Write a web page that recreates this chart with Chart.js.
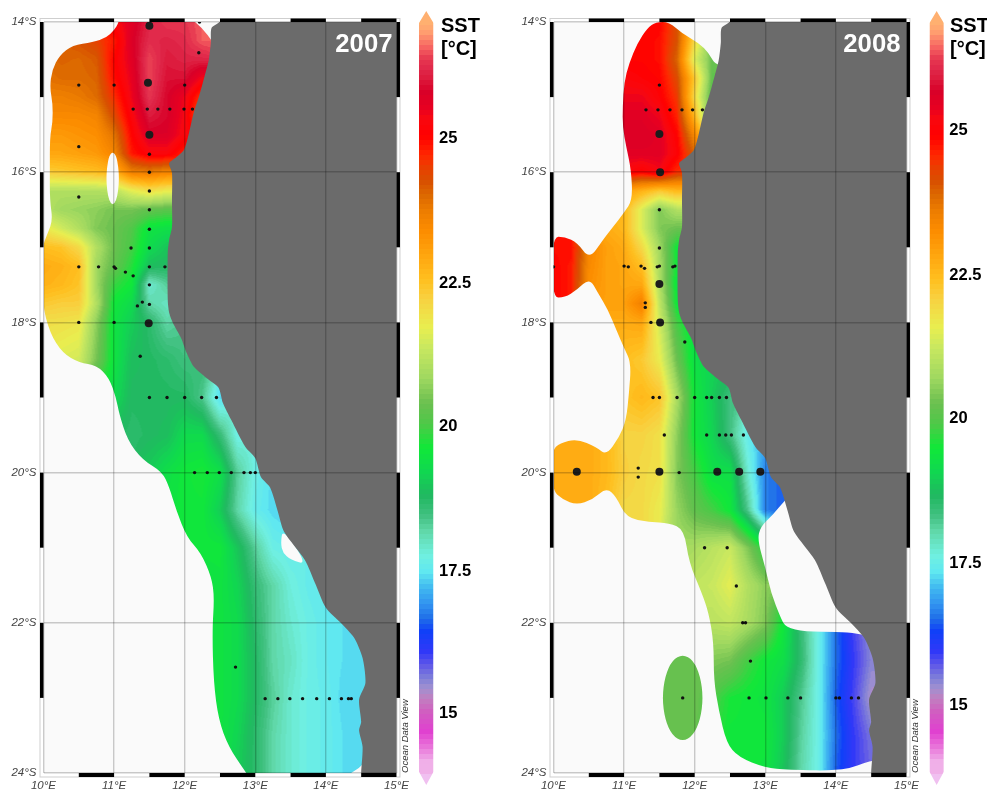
<!DOCTYPE html>
<html>
<head>
<meta charset="utf-8">
<title>SST 2007 / 2008</title>
<script src="https://cdn.jsdelivr.net/npm/chart.js@4"></script>
<style>
  html, body { margin: 0; background: #fff; }
  canvas { position: absolute; top: 0; filter: blur(0.35px); }
</style>
</head>
<body>
<canvas id="map2007" width="415" height="792" style="left:0"></canvas>
<canvas id="bar2007" width="70" height="792" style="left:415px"></canvas>
<canvas id="map2008" width="415" height="792" style="left:510px"></canvas>
<canvas id="bar2008" width="62" height="792" style="left:925px"></canvas>
<script>
const _ = null;

// grid the SST values were read on
const lons = [10, 10.25, 10.5, 10.75, 11, 11.25, 11.5, 11.75, 12, 12.25, 12.5, 12.75, 13, 13.25, 13.5, 13.75, 14, 14.25, 14.5, 14.75];
const lats = [-14, -14.25, -14.5, -14.75, -15, -15.25, -15.5, -15.75, -16, -16.25, -16.5, -16.75, -17, -17.25, -17.5, -17.75, -18, -18.5, -19, -19.5, -20, -20.5, -21, -21.5, -22, -22.5, -23, -23.5, -24];

const sst2007 = [
  [_, _, _, _, 25.2, 25.6, 26.1, 26.3, 26.3, 26.5, 26.5, _, _, _, _, _, _, _, _, _],
  [_, 24, 24.2, 24.4, 24.8, 25.7, 26.2, 26.1, 26.2, 26.5, 26.5, _, _, _, _, _, _, _, _, _],
  [23.9, 24, 23.95, 24.1, 25, 25.6, 26.4, 26, 26.1, 26.1, _, _, _, _, _, _, _, _, _, _],
  [23.8, 23.9, 23.9, 24, 24.9, 25.5, 26.4, 25.9, 25.9, 25.3, _, _, _, _, _, _, _, _, _, _],
  [23.6, 23.6, 23.7, 23.9, 24.6, 25.4, 26.3, 25.8, 25.4, 24.5, _, _, _, _, _, _, _, _, _, _],
  [23.4, 23.4, 23.4, 23.5, 24.3, 25.2, 26, 25.8, 25.3, 24, _, _, _, _, _, _, _, _, _, _],
  [23.1, 23.1, 23.2, 23.3, 23.8, 25, 25.7, 25.7, 25.2, _, _, _, _, _, _, _, _, _, _, _],
  [22.9, 22.9, 23, 23.1, 23.5, 24.8, 25.2, 25.2, 24.7, _, _, _, _, _, _, _, _, _, _, _],
  [22.2, 22.3, 22.4, 22.5, 22.7, 23.6, 23.7, 23.5, _, _, _, _, _, _, _, _, _, _, _, _],
  [21, 21, 21, 21, 21.1, 21.6, 21.9, 21.7, _, _, _, _, _, _, _, _, _, _, _, _],
  [21.1, 20.8, 20.7, 20.6, 20.4, 20.4, 20.2, 20.1, _, _, _, _, _, _, _, _, _, _, _, _],
  [21.8, 21.4, 21, 20.5, 20.3, 20, 19.4, 19.3, _, _, _, _, _, _, _, _, _, _, _, _],
  [22.5, 22.4, 22, 21, 20.3, 19.9, 19.2, 18.9, _, _, _, _, _, _, _, _, _, _, _, _],
  [22.8, 22.7, 22.5, 20.8, 20.2, 19.7, 18.8, 18.7, _, _, _, _, _, _, _, _, _, _, _, _],
  [22.7, 22.6, 22.4, 20.8, 19.8, 19.5, 17.8, 18.2, _, _, _, _, _, _, _, _, _, _, _, _],
  [22.3, 22.2, 22.2, 21, 19.5, 19.2, 18.1, 17.9, _, _, _, _, _, _, _, _, _, _, _, _],
  [21.9, 21.9, 21.8, 20.6, 19.4, 19, 18.6, 18.1, 18.3, _, _, _, _, _, _, _, _, _, _, _],
  [_, 21.5, 21.4, 20.4, 19.4, 18.8, 18.7, 18.6, 18.4, 18.5, _, _, _, _, _, _, _, _, _, _],
  [_, _, _, 19.5, 19.2, 18.7, 18.7, 18.7, 18.7, 18.3, 17.3, _, _, _, _, _, _, _, _, _],
  [_, _, _, _, 18.7, 18.6, 18.7, 18.8, 19.2, 19.2, 18.5, 17.6, _, _, _, _, _, _, _, _],
  [_, _, _, _, _, _, 19, 19.3, 19.5, 19.6, 19.3, 18.2, 17.6, 17.3, _, _, _, _, _, _],
  [_, _, _, _, _, _, _, 19.4, 19.5, 19.5, 19, 18.1, 17.5, 17.3, 17.2, _, _, _, _, _],
  [_, _, _, _, _, _, _, _, _, 19.5, 19.5, 18.9, 18.2, 17.6, 17.5, _, _, _, _, _],
  [_, _, _, _, _, _, _, _, _, 19.3, 19.4, 19.1, 18.5, 18.1, 17.7, 17.5, 17.4, _, _, _],
  [_, _, _, _, _, _, _, _, _, 19.3, 19.4, 19.2, 18.6, 18.1, 17.8, 17.6, 17.45, 17.35, _, _],
  [_, _, _, _, _, _, _, _, _, 19.3, 19.4, 19.2, 18.7, 18.1, 17.9, 17.6, 17.45, 17.35, 17.3, _],
  [_, _, _, _, _, _, _, _, _, 19.3, 19.4, 19.2, 18.7, 18.2, 17.8, 17.6, 17.5, 17.3, 17.3, _],
  [_, _, _, _, _, _, _, _, _, _, 19.4, 19.1, 18.6, 18.1, 17.8, 17.6, 17.5, 17.35, 17.32, _],
  [_, _, _, _, _, _, _, _, _, _, 19.4, 19, 18.6, 18.1, 17.8, 17.6, 17.5, 17.35, 17.32, _],
];

const sst2008 = [
  [_, _, _, _, _, 25, 25, 24.2, 22.5, _, _, _, _, _, _, _, _, _, _, _],
  [_, _, _, _, 25, 25, 24.9, 24.2, 22, 20.3, _, _, _, _, _, _, _, _, _, _],
  [_, _, _, _, 25, 25, 24.9, 24, 21.5, 20.3, 20.2, _, _, _, _, _, _, _, _, _],
  [_, _, _, 25.2, 25.2, 25.1, 25, 24.3, 22.3, 20.2, _, _, _, _, _, _, _, _, _, _],
  [_, _, _, 25.4, 25.4, 25.4, 25.1, 24.5, 22, 20, _, _, _, _, _, _, _, _, _, _],
  [_, _, _, 25.7, 25.6, 25.6, 25.4, 24.7, 22.6, 20, _, _, _, _, _, _, _, _, _, _],
  [_, _, _, _, 25.7, 25.7, 25.6, 25, 23.4, 21.5, _, _, _, _, _, _, _, _, _, _],
  [_, _, _, _, 25.6, 25.6, 25.6, 25.1, 24, _, _, _, _, _, _, _, _, _, _, _],
  [_, _, _, _, 25.2, 25, 25.3, 24.6, _, _, _, _, _, _, _, _, _, _, _, _],
  [_, _, _, _, 23, 22.7, 22.3, 22.6, _, _, _, _, _, _, _, _, _, _, _, _],
  [_, _, _, 22.6, 22.6, 21.5, 20.5, 21, _, _, _, _, _, _, _, _, _, _, _, _],
  [_, _, 23, 22.8, 22.6, 21.5, 20.5, 20.3, _, _, _, _, _, _, _, _, _, _, _, _],
  [24.9, 24.9, 23.5, 23, 22.8, 22, 20.8, 19.5, _, _, _, _, _, _, _, _, _, _, _, _],
  [25, 24.8, 23.4, 23, 22.9, 22.5, 20.9, 19.5, _, _, _, _, _, _, _, _, _, _, _, _],
  [25, 24.8, 23.3, 23, 22.9, 22.9, 21, 19.4, _, _, _, _, _, _, _, _, _, _, _, _],
  [_, _, 23, 23, 23, 23.6, 21.2, 19.5, 19, _, _, _, _, _, _, _, _, _, _, _],
  [_, _, _, 22.8, 22.8, 22.9, 21.4, 19.9, 19.3, _, _, _, _, _, _, _, _, _, _, _],
  [_, _, _, _, 22.5, 22.3, 21.7, 20.3, 19.3, 19.1, 19, _, _, _, _, _, _, _, _, _],
  [_, _, _, _, 22.4, 22.6, 22.4, 20.9, 19.5, 19, 18.4, _, _, _, _, _, _, _, _, _],
  [_, 22.8, 22.8, 22.6, 22.1, 22.1, 21.9, 20.6, 19.5, 19.1, 18.4, 17.5, 17, _, _, _, _, _, _, _],
  [22.8, 22.8, 22.8, 22.6, 22.2, 22, 21.9, 20.5, 19.9, 19.3, 19.3, 17.8, 16.7, 16.5, _, _, _, _, _, _],
  [_, 22.8, 22.8, 22.5, 22, 22, 21.7, 20.7, 20.2, 19.9, 19.5, 18.3, 16.7, 16.5, _, _, _, _, _, _],
  [_, _, _, _, _, _, _, 20.8, 20.9, 21.1, 21.3, 20.5, 19.6, _, _, _, _, _, _, _],
  [_, _, _, _, _, _, _, _, 21.2, 21.3, 21.6, 21, 20.6, _, _, _, _, _, _, _],
  [_, _, _, _, _, _, _, _, _, 21.1, 21.2, 20.9, 20.5, 19.5, 18.5, 17.6, 16.6, 15.9, 15.4, _],
  [_, _, _, _, _, _, 20.3, 20.3, 20.3, 20.5, 20.4, 19.9, 19.5, 19.3, 18.6, 17.6, 16.6, 16, 15.5, _],
  [_, _, _, _, _, _, 20.3, 20.3, 20.3, 20, 19.6, 19.5, 19.4, 19, 18.3, 17.6, 16.5, 15.9, 15.3, _],
  [_, _, _, _, _, _, 20.3, 20.3, 20.3, 19.8, 19.5, 19.5, 19.5, 19, 18.2, 17.6, 16.6, 16, 15.6, _],
  [_, _, _, _, _, _, _, _, _, _, 19.5, 19.5, 19.4, 18.9, 18.1, 17.6, 16.5, 16, 15.7, _],
];

// sampling area of each year, [lon, lat]; the east side runs on under the land
const water2007 = [
  [11.07, -13.9], [11.07, -14], [11, -14.11], [10.89, -14.21], [10.7, -14.27], [10.41, -14.31], [10.23, -14.44], [10.12, -14.64], [10.09, -14.87],
  [10.13, -15.08], [10.13, -15.34], [10.09, -15.53], [10.09, -16.01], [10.09, -16.37], [10.13, -16.64], [10.06, -16.81], [9.98, -17],
  [9.98, -17.74], [10.09, -18.14], [10.27, -18.41], [10.51, -18.54], [10.75, -18.57], [10.93, -18.74], [11.03, -19.01], [11.07, -19.21],
  [11.19, -19.57], [11.4, -19.83], [11.68, -19.99], [11.78, -20.19], [11.88, -20.5], [12.03, -20.86], [12.23, -21.07], [12.38, -21.39],
  [12.42, -21.66], [12.39, -22.1], [12.41, -22.8], [12.48, -23.29], [12.62, -23.65], [12.87, -24], [12.95, -24.1], [14.8, -24.1], [14.8, -22], [12.7, -13.9],
];
const hole2007a = [
  [10.98, -15.73], [11.03, -15.78], [11.06, -15.93], [11.07, -16.08], [11.06, -16.24], [11.03, -16.38],
  [10.98, -16.44], [10.93, -16.38], [10.9, -16.24], [10.89, -16.08], [10.9, -15.93], [10.93, -15.78],
];
const hole2007b = [[13.39, -20.74], [13.36, -20.94], [13.39, -21.07], [13.5, -21.16], [13.74, -21.23]];

const water2008 = [
  [11.45, -14], [11.64, -14], [11.82, -14.15], [12.06, -14.28], [12.2, -14.41], [12.31, -14.6], [12.9, -14.64], [13.46, -20.23],
  [13.28, -20.36], [13.11, -20.56], [12.93, -20.72], [12.89, -20.9], [13, -21.26], [13.08, -21.6], [13.22, -21.94], [13.29, -22.06],
  [13.56, -22.12], [14.02, -22.12], [14.3, -22.14], [14.73, -22.23], [14.73, -23.83], [14.49, -23.83], [14.12, -23.97], [13.32, -23.96],
  [13, -23.93], [12.62, -23.79], [12.45, -23.6], [12.34, -23.16], [12.27, -22.76], [12.27, -22.27], [12.2, -21.87], [12.1, -21.6],
  [11.92, -21.2], [11.85, -20.76], [11.64, -20.67], [11.36, -20.66], [11.03, -20.6], [10.89, -20.32], [10.75, -20.2], [10.55, -20.36],
  [10.33, -20.43], [10.13, -20.36], [9.98, -20.23], [9.98, -19.7], [10.09, -19.61], [10.33, -19.55], [10.61, -19.66], [10.75, -19.77],
  [10.93, -19.53], [11.03, -19.3], [11.07, -18.94], [11.1, -18.54], [11, -18.34], [10.89, -18.1], [10.77, -17.83], [10.63, -17.61],
  [10.51, -17.41], [10.33, -17.57], [10.16, -17.67], [9.98, -17.67], [9.98, -16.86], [10.16, -16.86], [10.34, -16.94], [10.51, -17.16],
  [10.7, -16.9], [10.84, -16.73], [11, -16.54], [11.12, -16.37], [11.1, -15.97], [11.03, -15.66], [10.98, -15.4], [10.98, -15.13],
  [11, -14.81], [11.07, -14.55], [11.19, -14.28], [11.33, -14.08],
];
const patch2008 = [
  [11.83, -22.42], [11.98, -22.5], [12.08, -22.71], [12.12, -23], [12.08, -23.29], [11.98, -23.5],
  [11.83, -23.58], [11.68, -23.5], [11.58, -23.29], [11.54, -23], [11.58, -22.71], [11.68, -22.5],
];

const coast = [
  [12.6, -13.8], [12.49, -14], [12.38, -14.08], [12.37, -14.28], [12.34, -14.51], [12.28, -14.73], [12.2, -15], [12.13, -15.2], [12.06, -15.48],
  [11.99, -15.7], [11.88, -15.8], [11.78, -15.88], [11.82, -16.01], [11.82, -16.37], [11.82, -16.73], [11.78, -16.9], [11.76, -17.08],
  [11.76, -17.7], [11.78, -17.87], [11.83, -18], [11.95, -18.21], [12.03, -18.41], [12.13, -18.59], [12.31, -18.74], [12.48, -18.87],
  [12.54, -19.07], [12.66, -19.3], [12.86, -19.66], [13, -19.81], [13.08, -20.06], [13.21, -20.2], [13.32, -20.52], [13.41, -20.79],
  [13.7, -21.16], [13.86, -21.5], [14, -21.8], [14.21, -22], [14.4, -22.2], [14.52, -22.47], [14.56, -22.8], [14.47, -23.02],
  [14.5, -23.32], [14.47, -23.43], [14.52, -23.65], [14.5, -24], [14.5, -24.3], [16, -25], [16, -13],
];

// stations
const small2007 = [
  [12.21, -14], [12.2, -14.41], [10.5, -14.84], [11, -14.84], [12, -14.84], [11.27, -15.16], [11.47, -15.16], [11.62, -15.16], [11.79, -15.16],
  [11.99, -15.16], [12.11, -15.16], [10.5, -15.66], [11.5, -15.76], [11.5, -16], [11.5, -16.25], [10.5, -16.33], [11.5, -16.5], [11.5, -16.76],
  [11.24, -17.01], [11.5, -17.01], [10.5, -17.26], [10.78, -17.26], [11, -17.26], [11.02, -17.28], [11.5, -17.26], [11.72, -17.26], [11.16, -17.33],
  [11.27, -17.38], [11.5, -17.5], [11.4, -17.73], [11.5, -17.76], [11.33, -17.78], [10.5, -18], [11, -18], [11.37, -18.45],
  [11.5, -19], [11.75, -19], [12, -19], [12.24, -19], [12.45, -19],
  [12.14, -20], [12.32, -20], [12.49, -20], [12.66, -20], [12.84, -20], [12.93, -20], [13, -20],
  [12.72, -22.59], [13.14, -23.01], [13.32, -23.01], [13.49, -23.01], [13.67, -23.01], [13.87, -23.01], [14.05, -23.01], [14.22, -23.01], [14.32, -23.01], [14.36, -23.01],
];
const big2007 = [[11.5, -14.05], [11.48, -14.81], [11.5, -15.5], [11.49, -18.01]];

const small2008 = [
  [11.5, -14.84], [11.31, -15.17], [11.48, -15.17], [11.65, -15.17], [11.82, -15.17], [11.97, -15.17], [12.11, -15.17], [11.5, -16.5], [11.5, -17.01],
  [10, -17.26], [11, -17.25], [11.06, -17.26], [11.24, -17.25], [11.29, -17.28], [11.47, -17.26], [11.5, -17.25], [11.69, -17.26], [11.72, -17.25],
  [11.3, -17.74], [11.3, -17.8], [11.38, -18], [11.86, -18.26],
  [11.41, -19], [11.5, -19], [11.75, -19], [12, -19], [12.17, -19], [12.24, -19], [12.35, -19], [12.45, -19],
  [11.57, -19.5], [12.17, -19.5], [12.35, -19.5], [12.44, -19.5], [12.52, -19.5], [12.69, -19.5],
  [11.2, -19.94], [11.2, -20.06], [11.78, -20], [12.14, -21], [12.46, -21], [12.59, -21.51], [12.68, -22], [12.72, -22], [12.79, -22.51],
  [11.83, -23], [12.77, -23], [13.01, -23], [13.32, -23], [13.5, -23], [14, -23], [14.05, -23], [14.22, -23], [14.32, -23],
];
const big2008 = [[11.5, -15.49], [11.51, -16], [11.5, -17.49], [11.51, -18], [10.33, -19.99], [11.5, -19.99], [12.32, -19.99], [12.63, -19.99], [12.93, -19.99]];

// colour bar
const barStops = [26.95, 26.81, 26.66, 26.52, 26.34, 26.17, 25.99, 25.77, 25.47, 25.3, 25, 24.65, 24.43, 24.2, 23.95, 23.68, 23.33, 22.86, 22.47, 22.16, 21.64, 21.29, 20.77, 20.33, 19.98, 19.55, 19.15, 18.73, 18.38, 18.1, 17.68, 17.4, 17.11, 16.81, 16.59, 16.36, 16.01, 15.77, 15.54, 15.37, 15.19, 14.97, 14.62, 14.37, 14.09];
const barColors = ["#ffb070", "#ffa070", "#fa8068", "#f56060", "#e63850", "#e0284a", "#dc1a3c", "#d80028", "#e80020", "#f80810", "#ff0000", "#ff2800", "#e84000", "#d85000", "#dc6800", "#ec7c00", "#fc8c00", "#ffa810", "#ffc020", "#f8d040", "#e8ee50", "#c8e860", "#a0d860", "#6cc050", "#50c848", "#10e838", "#10d850", "#20b860", "#40c080", "#60d8a8", "#70f0e0", "#60e8f0", "#40b8f0", "#3090f0", "#2070e8", "#1040f8", "#3038f8", "#6058e8", "#8080d8", "#a090d0", "#c080c0", "#d060c0", "#e040d0", "#e870d8", "#f0b0e8"];
const barOutline = [[0, 26.99], [0.5, 27.2], [1, 26.99], [1, 13.94], [0.5, 13.71], [0, 13.94]];
const barTickLabels = ["15", "17.5", "20", "22.5", "25"];
// where the labels sit on the bar: the 2008 ones were pasted a few pixels higher
const barTicks2007 = [14.95, 17.43, 19.96, 22.45, 24.98];
const barTicks2008 = [15.09, 17.57, 20.1, 22.59, 25.12];

const toPoints = (list) => list.map((p) => ({ x: p[0], y: p[1] }));
const hexRgb = (h) => [1, 3, 5].map((i) => parseInt(h.substr(i, 2), 16));

const BAND = 0.087;
function bandColor(v) {
  v = Math.round(v / BAND) * BAND;
  if (v >= barStops[0]) return hexRgb(barColors[0]);
  for (let i = 1; i < barStops.length; i++) {
    if (v >= barStops[i]) {
      const t = (v - barStops[i]) / (barStops[i - 1] - barStops[i]);
      const a = hexRgb(barColors[i]), b = hexRgb(barColors[i - 1]);
      return a.map((c, k) => Math.round(c + (b[k] - c) * t));
    }
  }
  return hexRgb(barColors[barColors.length - 1]);
}

function readField(grid, lon, lat) {
  let i = 0, j = 0;
  while (i < lons.length - 2 && lon > lons[i + 1]) i++;
  while (j < lats.length - 2 && lat < lats[j + 1]) j++;
  const tx = Math.min(1, Math.max(0, (lon - lons[i]) / (lons[i + 1] - lons[i])));
  const ty = Math.min(1, Math.max(0, (lats[j] - lat) / (lats[j] - lats[j + 1])));
  const corners = [[grid[j][i], (1 - tx) * (1 - ty)], [grid[j][i + 1], tx * (1 - ty)], [grid[j + 1][i], (1 - tx) * ty], [grid[j + 1][i + 1], tx * ty]];
  let sum = 0, weight = 0;
  corners.forEach((c) => {
    if (c[0] !== null) { sum += c[0] * c[1]; weight += c[1]; }
  });
  return weight > 0 ? sum / weight : null;
}

// rounded outline: quadratic curves through the midpoints of the edges
function tracePath(ctx, shape, scales) {
  const pts = shape.map((p) => [scales.x.getPixelForValue(p[0]), scales.y.getPixelForValue(p[1])]);
  const n = pts.length;
  const mid = (a, b) => [(a[0] + b[0]) / 2, (a[1] + b[1]) / 2];
  const start = mid(pts[n - 1], pts[0]);
  ctx.moveTo(start[0], start[1]);
  pts.forEach((p, i) => {
    const m = mid(p, pts[(i + 1) % n]);
    ctx.quadraticCurveTo(p[0], p[1], m[0], m[1]);
  });
  ctx.closePath();
}

function fieldPlugin(grid, shapes) {
  let image = null;
  return {
    id: "field",
    beforeDatasetsDraw(chart) {
      const { ctx, chartArea: a, scales } = chart;
      ctx.fillStyle = "#fafafa";
      ctx.fillRect(a.left, a.top, a.width, a.height);
      if (!image) {
        image = document.createElement("canvas");
        image.width = Math.ceil(a.width);
        image.height = Math.ceil(a.height);
        const c2 = image.getContext("2d");
        const data = c2.createImageData(image.width, image.height);
        const table = {};
        for (let py = 0; py < image.height; py++) {
          const lat = scales.y.getValueForPixel(a.top + py + 0.5);
          for (let px = 0; px < image.width; px++) {
            const v = readField(grid, scales.x.getValueForPixel(a.left + px + 0.5), lat);
            if (v === null) continue;
            const key = Math.round(v / BAND);
            const rgb = table[key] || (table[key] = bandColor(v));
            const o = (py * image.width + px) * 4;
            data.data[o] = rgb[0]; data.data[o + 1] = rgb[1]; data.data[o + 2] = rgb[2]; data.data[o + 3] = 255;
          }
        }
        c2.putImageData(data, 0, 0);
      }
      ctx.save();
      ctx.beginPath();
      ctx.rect(a.left, a.top, a.width, a.height);
      ctx.clip();
      ctx.beginPath();
      shapes.forEach((shape) => tracePath(ctx, shape, scales));
      ctx.clip("evenodd");
      ctx.drawImage(image, a.left, a.top);
      ctx.restore();
    },
  };
}

// map frame with its black and white degree bars, year and ODV mark
function framePlugin(year, yearInset) {
  return {
    id: "frame",
    afterDraw(chart) {
      const { ctx, chartArea: a, scales: { x, y } } = chart;
      ctx.save();
      ctx.strokeStyle = "#cfcfcf";
      ctx.lineWidth = 1;
      ctx.strokeRect(a.left - 3.5, a.top - 3.5, a.width + 7, a.height + 7.5);
      ctx.fillStyle = "#000";
      for (let lon = 10.5; lon < 15; lon += 1) {
        const x0 = x.getPixelForValue(lon), x1 = x.getPixelForValue(lon + 0.5);
        ctx.fillRect(x0, a.top - 3.5, x1 - x0, 3.5);
        ctx.fillRect(x0, a.bottom, x1 - x0, 4);
      }
      for (let lat = -14; lat > -24; lat -= 2) {
        const y0 = y.getPixelForValue(lat), y1 = y.getPixelForValue(lat - 1);
        ctx.fillRect(a.left - 3.5, y0, 3.5, y1 - y0);
        ctx.fillRect(a.right, y0, 3.5, y1 - y0);
      }
      ctx.fillStyle = "#fff";
      ctx.font = "bold 25.7px 'Liberation Sans'";
      ctx.textAlign = "right";
      ctx.fillText(year, a.right - yearInset, 52);
      ctx.fillStyle = "#333";
      ctx.font = "italic 9.5px 'Liberation Sans'";
      ctx.translate(a.right + 8.5 + 3, a.bottom);
      ctx.rotate(-Math.PI / 2);
      ctx.textAlign = "left";
      ctx.fillText("Ocean Data View", 0, 0);
      ctx.restore();
    },
  };
}

function makeMap(id, year, yearInset, grid, shapes, small, big) {
  const tickFont = { family: "'Liberation Sans'", size: 11.5, style: "italic" };
  return new Chart(document.getElementById(id), {
    type: "scatter",
    data: {
      datasets: [
        { data: toPoints(coast), showLine: true, fill: "shape", tension: 0.25, backgroundColor: "#6b6b6b", borderWidth: 0, pointRadius: 0 },
        { data: toPoints(small), pointRadius: 1.7, backgroundColor: "#111", borderWidth: 0 },
        { data: toPoints(big), pointRadius: 4, backgroundColor: "#1c1c1c", borderWidth: 0 },
      ],
    },
    options: {
      responsive: false,
      animation: false,
      events: [],
      layout: { autoPadding: false, padding: { top: 22, right: 15.5, left: 0, bottom: 0 } },
      plugins: { legend: { display: false }, tooltip: { enabled: false } },
      scales: {
        x: {
          min: 10, max: 15,
          afterFit(s) { s.height = 19; },
          border: { display: false },
          grid: { color: "rgba(0,0,0,0.2)", lineWidth: 1.4, drawTicks: false, z: 1 },
          ticks: { stepSize: 1, padding: 6, maxRotation: 0, color: "#444", font: tickFont, callback: (v) => v + "°E" },
        },
        y: {
          min: -24, max: -14,
          afterFit(s) { s.width = 43.5; },
          border: { display: false },
          grid: { color: "rgba(0,0,0,0.2)", lineWidth: 1.4, drawTicks: false, z: 1 },
          ticks: { stepSize: 2, padding: 7, color: "#444", font: tickFont, callback: (v) => -v + "°S" },
        },
      },
    },
    plugins: [fieldPlugin(grid, shapes), framePlugin(year, yearInset)],
  });
}

function barFill(c) {
  const { chartArea: a, scales, ctx } = c.chart;
  if (!a) return "#fff";
  const g = ctx.createLinearGradient(0, a.top, 0, a.bottom);
  const span = a.bottom - a.top;
  let prev = 0;
  for (let v = 26.96; v > 13.9; v -= BAND) {
    const stop = Math.min(1, Math.max(0, (scales.y.getPixelForValue(v) - a.top) / span));
    const rgb = "rgb(" + bandColor(v).join(",") + ")";
    g.addColorStop(prev, rgb);
    g.addColorStop(stop, rgb);
    prev = stop;
  }
  g.addColorStop(prev, "#f0c0f0");
  g.addColorStop(1, "#f0c0f0");
  return g;
}

function makeBar(id, tickValues, left, axisWidth, titleX, ghostX) {
  return new Chart(document.getElementById(id), {
    type: "scatter",
    data: { datasets: [{ data: toPoints(barOutline), showLine: true, fill: "shape", backgroundColor: barFill, borderWidth: 0, pointRadius: 0 }] },
    options: {
      responsive: false,
      animation: false,
      events: [],
      layout: { autoPadding: false, padding: { top: 11, bottom: 7, left: left, right: 0 } },
      plugins: { legend: { display: false }, tooltip: { enabled: false } },
      scales: {
        x: { min: 0, max: 1, display: false },
        y: {
          position: "right",
          min: 13.71, max: 27.2,
          afterFit(s) { s.width = axisWidth; s.paddingTop = 0; s.paddingBottom = 0; },
          afterBuildTicks(s) { s.ticks = tickValues.map((v) => ({ value: v })); },
          border: { display: false },
          grid: { display: false, drawTicks: false },
          ticks: {
            padding: 5.5,
            autoSkip: false,
            color: "#000",
            font: { family: "'Liberation Sans'", size: 16.5, weight: "bold" },
            showLabelBackdrop: true,
            backdropColor: "#fff",
            backdropPadding: { top: 4, bottom: 3, left: 6, right: 6 },
            callback: (v, i) => barTickLabels[i],
          },
        },
      },
    },
    plugins: [{
      id: "barTitle",
      beforeDraw(chart) {
        // the right bar's labels were pasted over the old ones, which still peek out below
        if (ghostX === null) return;
        const ctx = chart.ctx;
        ctx.save();
        ctx.fillStyle = "#c4c4c4";
        ctx.font = "bold 16.5px 'Liberation Sans'";
        ctx.textBaseline = "middle";
        barTicks2007.forEach((v, i) => ctx.fillText(barTickLabels[i], ghostX, chart.scales.y.getPixelForValue(v)));
        ctx.restore();
      },
      afterDraw(chart) {
        const ctx = chart.ctx;
        ctx.save();
        ctx.fillStyle = "#000";
        ctx.font = "bold 20px 'Liberation Sans'";
        ctx.fillText("SST", titleX, 32);
        ctx.fillText("[°C]", titleX, 55);
        ctx.restore();
      },
    }],
  });
}

makeMap("map2007", "2007", 4, sst2007, [water2007, hole2007a, hole2007b], small2007, big2007);
makeMap("map2008", "2008", 6, sst2008, [water2008, patch2008], small2008, big2008);
makeBar("bar2007", barTicks2007, 4, 51.5, 26, null);
makeBar("bar2008", barTicks2008, 4.5, 43.2, 25, 24);
</script>
</body>
</html>
